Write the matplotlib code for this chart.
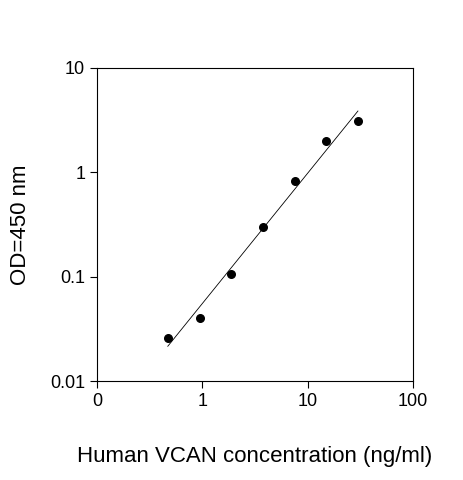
import numpy as np
import matplotlib.pyplot as plt
from matplotlib.ticker import FixedLocator, NullLocator

conc = [0.47, 0.94, 1.88, 3.75, 7.5, 15, 30]
od = [0.026, 0.040, 0.105, 0.30, 0.82, 2.0, 3.1]
xtick_vals = [0.1, 1, 10, 100]
xtick_labels = ["0", "1", "10", "100"]
ytick_vals = [0.01, 0.1, 1, 10]
ytick_labels = ["0.01", "0.1", "1", "10"]

plt.rcParams['font.family'] = ['Liberation Sans', 'DejaVu Sans']

fig = plt.figure(figsize=(4.63, 4.8), dpi=100)
ax = fig.add_axes([97 / 463, 1 - 381 / 480, 316 / 463, 313 / 480])

# power-law fit in log space
lx, ly = np.log10(conc), np.log10(od)
k, b = np.polyfit(lx, ly, 1)
fx = np.array([conc[0], conc[-1]])
ax.plot(fx, 10 ** (k * np.log10(fx) + b), color='black', lw=0.6)
ax.scatter(conc, od, color='black', s=30, zorder=3)

ax.set_xscale('log')
ax.set_yscale('log')
ax.set_xlim(0.1, 100)
ax.set_ylim(0.01, 10)
ax.xaxis.set_major_locator(FixedLocator(xtick_vals))
ax.xaxis.set_minor_locator(NullLocator())
ax.set_xticklabels(xtick_labels)
ax.yaxis.set_major_locator(FixedLocator(ytick_vals))
ax.yaxis.set_minor_locator(NullLocator())
ax.set_yticklabels(ytick_labels)
ax.tick_params(labelsize=13, length=5, width=0.8)
for s in ax.spines.values():
    s.set_linewidth(0.8)

ax.set_xlabel('Human VCAN concentration (ng/ml)', fontsize=16, labelpad=26)
ax.set_ylabel('OD=450 nm', fontsize=16, labelpad=14)

fig.savefig('out.png', dpi=100)
